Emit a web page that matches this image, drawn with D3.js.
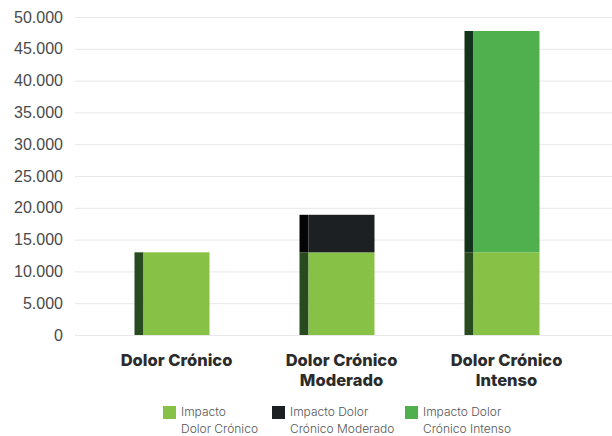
<!DOCTYPE html>
<html>
<head>
<meta charset="utf-8">
<script src="https://cdn.jsdelivr.net/npm/d3@7"></script>
<style>
  body { margin: 0; background: #fff; font-family: "Inter", "DejaVu Sans", sans-serif; }
  .y.axis text { font-size: 16px; font-weight: 300; fill: #4a4a4a; }
  .y.axis path, .y.axis line { display: none; }
  .grid line { stroke: #e8e8e8; stroke-width: 1; }
  .grid path { display: none; }
  .cat-label { font-size: 16.5px; font-weight: 800; fill: #2b2b2b; }
  .key-label { font-size: 12px; font-weight: 300; fill: #555; }
</style>
</head>
<body>
<div id="chart"></div>
<script>
// Data
var categories = [["Dolor Crónico"], ["Dolor Crónico", "Moderado"], ["Dolor Crónico", "Intenso"]];
var seriesNames = ["Impacto Dolor Crónico", "Impacto Dolor Crónico Moderado", "Impacto Dolor Crónico Intenso"];
var legendLines = [["Impacto", "Dolor Crónico"], ["Impacto Dolor", "Crónico Moderado"], ["Impacto Dolor", "Crónico Intenso"]];
var baseValues = [13000, 13000, 13000];
var moderadoValues = [0, 5900, 0];
var intensoValues = [0, 0, 34800];
var yTicks = [0, 5000, 10000, 15000, 20000, 25000, 30000, 35000, 40000, 45000, 50000];

var COLORS = ["#87c247", "#1d2023", "#50b04d"];
var EDGE = ["#274a1e", "#050505", "#12331a"];

var width = 612, height = 436;
var margins = { top: 17, left: 75, right: 0, bottom: 101 };

var locale = d3.formatLocale({ decimal: ",", thousands: ".", grouping: [3], currency: ["", ""] });
var fmt = locale.format(",");

var svg = d3.select("#chart").append("svg")
  .attr("width", width)
  .attr("height", height);

var yScale = d3.scaleLinear()
  .domain([0, 50000])
  .range([height - margins.bottom, margins.top]);

var xScale = d3.scaleBand()
  .domain(d3.range(categories.length))
  .range([94, 589])
  .paddingInner(0.6)
  .paddingOuter(0.3);

// grid
svg.append("g")
  .attr("class", "grid")
  .attr("transform", "translate(" + margins.left + ",0)")
  .call(d3.axisLeft(yScale).tickValues(yTicks).tickSize(-(width - margins.left)).tickFormat(""));

// y axis labels
svg.append("g")
  .attr("class", "y axis")
  .attr("transform", "translate(" + 63 + ",0)")
  .call(d3.axisLeft(yScale).tickValues(yTicks).tickSize(0).tickPadding(0).tickFormat(fmt));

// stacked data
var rows = categories.map(function(c, i) {
  return [baseValues[i], moderadoValues[i], intensoValues[i]];
});

var edgeW = 9;
rows.forEach(function(vals, i) {
  var y0 = 0;
  var g = svg.append("g").attr("class", "bar");
  vals.forEach(function(v, s) {
    if (!v) return;
    var y1 = y0 + v;
    g.append("rect")
      .attr("x", xScale(i) - edgeW)
      .attr("width", edgeW)
      .attr("y", yScale(y1))
      .attr("height", yScale(y0) - yScale(y1))
      .attr("fill", EDGE[s]);
    g.append("rect")
      .attr("x", xScale(i))
      .attr("width", xScale.bandwidth())
      .attr("y", yScale(y1))
      .attr("height", yScale(y0) - yScale(y1))
      .attr("fill", COLORS[s]);
    y0 = y1;
  });
});

// category labels
categories.forEach(function(lines, i) {
  var t = svg.append("text")
    .attr("class", "cat-label")
    .attr("text-anchor", "middle")
    .attr("x", xScale(i) + xScale.bandwidth() / 2)
    .attr("y", 366);
  lines.forEach(function(l, j) {
    t.append("tspan")
      .attr("x", xScale(i) + xScale.bandwidth() / 2)
      .attr("dy", j === 0 ? 0 : 20)
      .text(l);
  });
});

// legend
var keyX = [163, 272, 405];
seriesNames.forEach(function(name, s) {
  svg.append("rect")
    .attr("x", keyX[s])
    .attr("y", 406)
    .attr("width", 13)
    .attr("height", 13)
    .attr("fill", COLORS[s]);
  var t = svg.append("text").attr("class", "key-label").attr("y", 416);
  legendLines[s].forEach(function(l, j) {
    t.append("tspan")
      .attr("x", keyX[s] + 18)
      .attr("dy", j === 0 ? 0 : 16.5)
      .text(l);
  });
});
</script>
</body>
</html>
